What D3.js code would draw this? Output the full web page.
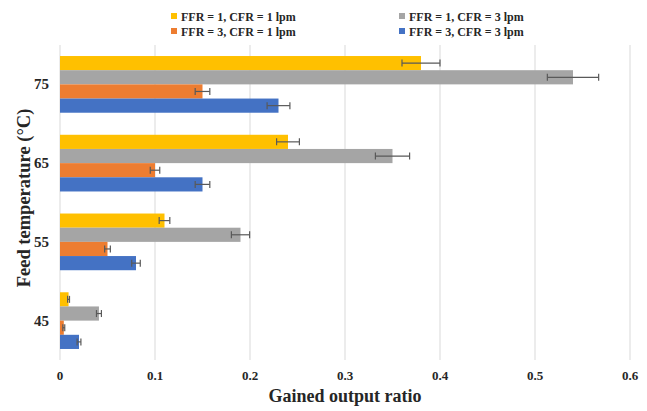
<!DOCTYPE html>
<html>
<head>
<meta charset="utf-8">
<script src="https://cdn.jsdelivr.net/npm/d3@7"></script>
<style>
  body { margin: 0; background: #fff; }
</style>
</head>
<body>
<div id="chart"></div>
<script>
// feed temperatures (top to bottom)
const TEMPS = ['75', '65', '55', '45'];
const SERIES = ['FFR = 1, CFR = 1 lpm', 'FFR = 1, CFR = 3 lpm', 'FFR = 3, CFR = 1 lpm', 'FFR = 3, CFR = 3 lpm'];
const COLORS = ['#FFC000', '#A5A5A5', '#ED7D31', '#4472C4'];

// gained output ratio per series, in TEMPS order
const GOR_11 = [0.38, 0.24, 0.11, 0.009];
const GOR_13 = [0.54, 0.35, 0.19, 0.041];
const GOR_31 = [0.15, 0.10, 0.05, 0.004];
const GOR_33 = [0.23, 0.15, 0.08, 0.02];

// error bar half widths
const ERR_11 = [0.02, 0.012, 0.0056, 0.001];
const ERR_13 = [0.027, 0.018, 0.0096, 0.0026];
const ERR_31 = [0.0077, 0.005, 0.003, 0.001];
const ERR_33 = [0.012, 0.0077, 0.0045, 0.002];

const X_TICKS = [0, 0.1, 0.2, 0.3, 0.4, 0.5, 0.6];

const values = [GOR_11, GOR_13, GOR_31, GOR_33];
const errors = [ERR_11, ERR_13, ERR_31, ERR_33];

const WIDTH = 647;
const HEIGHT = 411;
const FONT = "'Liberation Serif', 'Times New Roman', Times, 'DejaVu Serif', serif";
const margin = { top: 45, left: 60, right: 17, bottom: 51 };

const svg = d3.select('#chart').append('svg')
  .attr('width', WIDTH)
  .attr('height', HEIGHT)
  .attr('font-family', FONT)
  .attr('font-weight', 'bold');

const x = d3.scaleLinear().domain([0, 0.6]).range([margin.left, 630]);
const y = d3.scaleBand().domain(TEMPS)
  .range([margin.top, HEIGHT - margin.bottom])
  .paddingInner(0.28).paddingOuter(0.14);
const ySub = d3.scaleBand().domain(d3.range(SERIES.length)).range([0, y.bandwidth()]);

// gridlines
svg.append('g').selectAll('line')
  .data(X_TICKS)
  .enter().append('line')
  .attr('x1', d => x(d)).attr('x2', d => x(d))
  .attr('y1', margin.top).attr('y2', HEIGHT - margin.bottom)
  .attr('stroke', '#d9d9d9').attr('stroke-width', 1);

// x tick labels
svg.append('g').selectAll('text')
  .data(X_TICKS)
  .enter().append('text')
  .attr('x', d => x(d)).attr('y', 380)
  .attr('text-anchor', 'middle')
  .attr('fill', '#262626')
  .attr('font-size', 13)
  .text(d => d === 0 ? '0' : d3.format('.1f')(d));

// bars
const rows = [];
TEMPS.forEach((t, i) => {
  SERIES.forEach((s, k) => {
    rows.push({ t, k, v: values[k][i], e: errors[k][i] });
  });
});

svg.append('g').selectAll('rect')
  .data(rows)
  .enter().append('rect')
  .attr('x', x(0))
  .attr('y', d => y(d.t) + ySub(d.k))
  .attr('width', d => x(d.v) - x(0))
  .attr('height', ySub.bandwidth())
  .attr('fill', d => COLORS[d.k]);

// error bars
const eb = svg.append('g').attr('stroke', '#595959').attr('stroke-width', 1.2);
rows.forEach(d => {
  const cy = y(d.t) + ySub(d.k) + ySub.bandwidth() / 2;
  const x1 = x(d.v - d.e), x2 = x(d.v + d.e);
  eb.append('line').attr('x1', x1).attr('x2', x2).attr('y1', cy).attr('y2', cy);
  eb.append('line').attr('x1', x1).attr('x2', x1).attr('y1', cy - 3.5).attr('y2', cy + 3.5);
  eb.append('line').attr('x1', x2).attr('x2', x2).attr('y1', cy - 3.5).attr('y2', cy + 3.5);
});

// y tick labels
svg.append('g').selectAll('text')
  .data(TEMPS)
  .enter().append('text')
  .attr('x', 49).attr('y', d => y(d) + y.bandwidth() / 2 + 5)
  .attr('text-anchor', 'end')
  .attr('fill', '#262626')
  .attr('font-size', 15)
  .text(d => d);

// axis titles
svg.append('text')
  .attr('x', 345).attr('y', 402)
  .attr('text-anchor', 'middle')
  .attr('fill', '#262626')
  .attr('font-size', 18)
  .text('Gained output ratio');

svg.append('text')
  .attr('transform', 'translate(30,198) rotate(-90)')
  .attr('text-anchor', 'middle')
  .attr('fill', '#262626')
  .attr('font-size', 18.5)
  .text('Feed temperature (°C)');

// legend (two columns)
const legendPos = [[174, 16], [402, 16], [174, 31], [402, 31]];
const lg = svg.append('g').selectAll('g')
  .data(d3.range(SERIES.length))
  .enter().append('g')
  .attr('transform', (d, i) => 'translate(' + legendPos[i][0] + ',' + legendPos[i][1] + ')');
lg.append('rect').attr('x', -3).attr('y', -3).attr('width', 6).attr('height', 6)
  .attr('fill', d => COLORS[d]);
lg.append('text').attr('x', 7).attr('y', 4.5)
  .attr('fill', '#262626')
  .attr('font-size', 12)
  .text(d => SERIES[d]);
</script>
</body>
</html>
